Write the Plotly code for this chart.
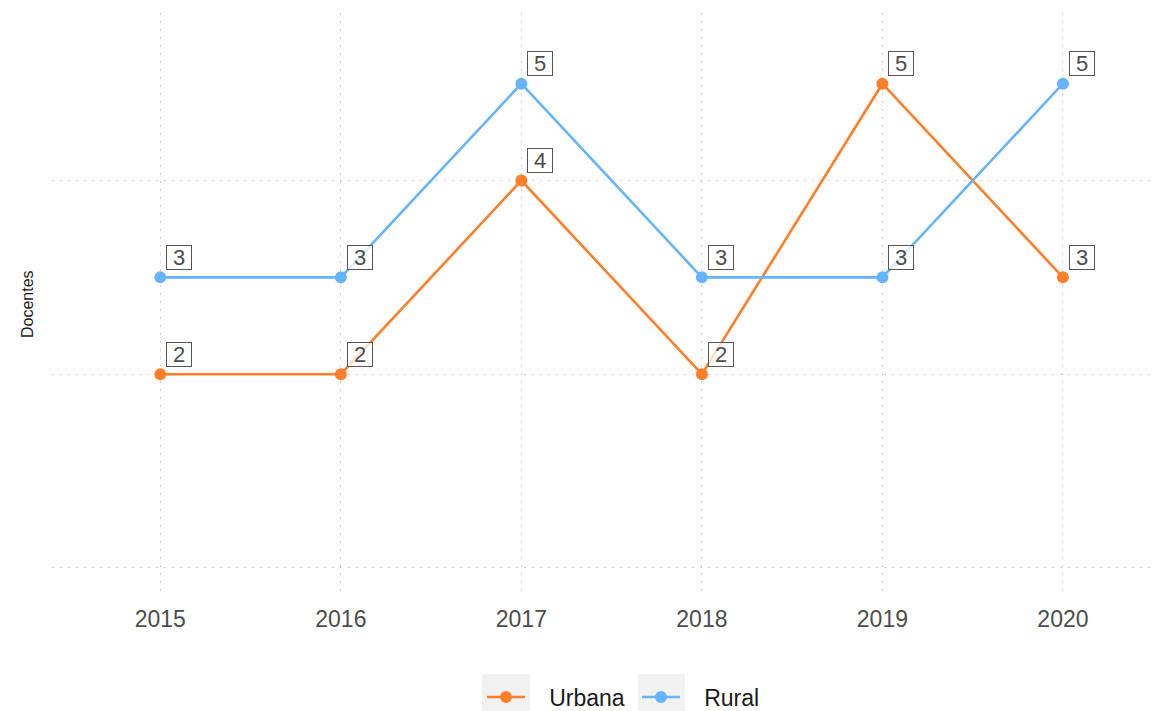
import plotly.graph_objects as go

# Teacher counts per year, by zone
years = [2015, 2016, 2017, 2018, 2019, 2020]
urbana = [2, 2, 4, 2, 5, 3]
rural = [3, 3, 5, 3, 3, 5]

series = [
    ("Urbana", urbana, "#ff7f2a"),
    ("Rural", rural, "#66b3ff"),
]

FONT = "Liberation Sans, Arial, sans-serif"
W, H = 1159, 711
margin = dict(l=52, r=4, t=13, b=116, autoexpand=False)
plot_w = W - margin["l"] - margin["r"]
plot_h = H - margin["t"] - margin["b"]

# non-breaking spaces widen the gap between legend key and label
KEY_GAP = "\u00a0\u00a0\u00a0"

fig = go.Figure()
for name, vals, color in series:
    fig.add_trace(go.Scatter(
        x=years, y=vals, name=KEY_GAP + name, mode="lines+markers",
        line=dict(color=color, width=2.6),
        marker=dict(color=color, size=12),
    ))

# Boxed value labels, offset up and to the right of each point
annotations = []
for name, vals, color in series:
    for x, v in zip(years, vals):
        annotations.append(dict(
            x=x, y=v, xref="x", yref="y", text=str(v), showarrow=False,
            xshift=19, yshift=20, width=24, height=23, valign="middle",
            font=dict(family=FONT, size=22, color="#4d4d4d"),
            bgcolor="rgba(255,255,255,0.75)", bordercolor="#555555",
            borderwidth=1, borderpad=0,
        ))

annotations.append(dict(
    text="Docentes", xref="paper", yref="paper", x=0, y=0.5,
    xanchor="center", yanchor="middle", xshift=-25, textangle=-90,
    showarrow=False, font=dict(family=FONT, size=16, color="#1a1a1a"),
))

def px_x(p):
    return (p - margin["l"]) / plot_w

def px_y(p):
    return (H - margin["b"] - p) / plot_h

# Grey key backgrounds behind the legend symbols
shapes = []
for x0, x1 in [(482, 530), (638, 685)]:
    shapes.append(dict(
        type="rect", xref="paper", yref="paper",
        x0=px_x(x0), x1=px_x(x1), y0=px_y(711), y1=px_y(674),
        fillcolor="#f2f2f2", line=dict(width=0), layer="below",
    ))

grid = dict(gridcolor="#cfcfcf", gridwidth=1, griddash="2px,6px")

fig.update_layout(
    width=W, height=H, margin=margin,
    plot_bgcolor="white", paper_bgcolor="white",
    font=dict(family=FONT),
    xaxis=dict(range=[2014.4, 2020.51], tickvals=years, ticktext=[str(y) for y in years],
               showline=False, zeroline=False, ticks="", ticklabelstandoff=8,
               tickfont=dict(size=23, color="#4d4d4d"), **grid),
    yaxis=dict(range=[-0.28, 5.73], tickvals=[0, 2, 4], showticklabels=False,
               showline=False, zeroline=False, ticks="", **grid),
    legend=dict(orientation="h", x=px_x(482), xanchor="left", y=px_y(697), yanchor="middle",
                font=dict(size=23, color="#1a1a1a"), bgcolor="rgba(0,0,0,0)",
                itemwidth=38, entrywidth=102),
    annotations=annotations,
    shapes=shapes,
    showlegend=True,
)

fig.write_html("out.html")
